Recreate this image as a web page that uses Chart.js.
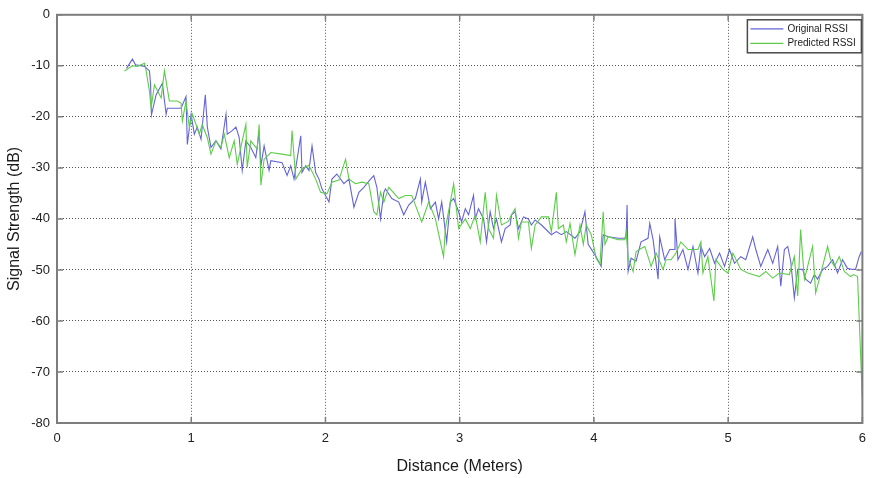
<!DOCTYPE html>
<html>
<head>
<meta charset="utf-8">
<title>RSSI vs distance</title>
<script src="https://cdn.jsdelivr.net/npm/chart.js@4.4.0/dist/chart.umd.min.js"></script>
<style>
    html, body { margin: 0; padding: 0; background: #fff; }
</style>
</head>
<body>
<canvas id="rssiChart" width="874" height="478"></canvas>
<script>

// measured signal
var originalDistance = [
    0.518, 0.562, 0.585, 0.652, 0.689, 0.697, 0.704, 0.738, 0.785, 0.813, 0.822, 0.924, 0.961, 0.971, 0.999,
    1.023, 1.045, 1.073, 1.105, 1.120, 1.147, 1.184, 1.221, 1.259, 1.268, 1.305, 1.333, 1.357, 1.380, 1.407,
    1.444, 1.481, 1.506, 1.519, 1.543, 1.580, 1.593, 1.677, 1.714, 1.741, 1.766, 1.816, 1.825, 1.853, 1.877,
    1.900, 1.927, 1.952, 1.974, 2.026, 2.048, 2.085, 2.137, 2.175, 2.212, 2.249, 2.286, 2.336, 2.360, 2.383,
    2.410, 2.435, 2.447, 2.494, 2.546, 2.583, 2.620, 2.670, 2.707, 2.717, 2.744, 2.782, 2.819, 2.843, 2.866,
    2.903, 2.930, 2.955, 2.992, 3.014, 3.042, 3.066, 3.103, 3.116, 3.140, 3.178, 3.200, 3.227, 3.252, 3.274,
    3.311, 3.339, 3.376, 3.386, 3.413, 3.438, 3.475, 3.512, 3.534, 3.562, 3.609, 3.683, 3.720, 3.757, 3.794,
    3.859, 3.896, 3.933, 3.957, 4.007, 4.054, 4.069, 4.106, 4.181, 4.240, 4.247, 4.255, 4.277, 4.314, 4.351,
    4.403, 4.416, 4.441, 4.478, 4.490, 4.527, 4.565, 4.602, 4.604, 4.626, 4.663, 4.701, 4.738, 4.775, 4.797,
    4.825, 4.862, 4.899, 4.936, 4.973, 5.010, 5.047, 5.094, 5.131, 5.183, 5.206, 5.243, 5.295, 5.332, 5.369,
    5.392, 5.419, 5.444, 5.466, 5.493, 5.518, 5.555, 5.577, 5.614, 5.642, 5.666, 5.704, 5.741, 5.778, 5.815,
    5.852, 5.889, 5.927, 5.949, 5.976, 5.993
];
var originalRssi = [
    -10.5, -8.7, -9.8, -10.1, -11.0, -13.5, -19.6, -15.7, -13.4, -19.5, -18.3, -18.3, -16.0, -25.4, -19.5,
    -23.4, -22.0, -24.4, -15.7, -22.0, -26.0, -24.7, -26.3, -19.5, -23.4, -22.7, -22.0, -24.0, -30.5, -24.7,
    -26.0, -28.0, -23.0, -29.6, -25.7, -30.5, -28.6, -29.0, -31.5, -29.6, -32.2, -23.7, -30.9, -29.6, -30.5,
    -25.7, -30.9, -32.2, -34.1, -36.7, -32.2, -31.2, -33.1, -32.2, -37.7, -34.8, -33.8, -32.2, -31.5, -33.8,
    -40.0, -34.8, -34.1, -36.0, -36.7, -39.2, -37.3, -36.0, -32.2, -36.7, -32.8, -38.0, -36.7, -40.0, -36.7,
    -44.5, -36.7, -36.0, -38.6, -40.6, -38.0, -39.2, -35.4, -40.0, -38.0, -40.0, -44.5, -38.6, -41.9, -40.0,
    -44.5, -41.9, -41.2, -39.2, -38.6, -41.9, -39.6, -40.0, -41.2, -40.2, -41.2, -43.1, -42.5, -43.1, -42.5,
    -43.8, -42.5, -38.6, -45.0, -47.0, -49.3, -43.1, -43.5, -43.8, -43.8, -37.3, -50.3, -47.7, -48.3, -44.5,
    -43.8, -40.9, -44.1, -51.8, -43.5, -48.0, -46.0, -46.0, -40.0, -48.0, -46.0, -49.9, -45.4, -50.6, -45.4,
    -47.4, -45.8, -48.7, -46.7, -49.3, -46.0, -48.7, -47.4, -48.0, -43.5, -46.0, -49.3, -46.0, -48.7, -45.4,
    -53.2, -46.0, -45.4, -48.3, -55.5, -49.9, -49.9, -51.8, -52.6, -50.9, -51.8, -49.9, -49.3, -48.0, -50.6,
    -48.0, -49.7, -49.9, -49.9, -47.4, -46.4
];

// model output
var predictedDistance = [
    0.503, 0.562, 0.600, 0.652, 0.664, 0.689, 0.701, 0.726, 0.776, 0.800, 0.813, 0.837, 0.896, 0.924, 0.934,
    0.961, 0.986, 1.008, 1.036, 1.060, 1.082, 1.120, 1.147, 1.184, 1.221, 1.246, 1.283, 1.320, 1.343, 1.380,
    1.407, 1.417, 1.444, 1.491, 1.506, 1.519, 1.543, 1.593, 1.677, 1.741, 1.751, 1.779, 1.825, 1.877, 1.927,
    1.964, 2.011, 2.048, 2.100, 2.150, 2.175, 2.224, 2.271, 2.323, 2.360, 2.383, 2.410, 2.435, 2.472, 2.546,
    2.596, 2.643, 2.717, 2.769, 2.819, 2.880, 2.893, 2.930, 2.955, 2.992, 3.042, 3.079, 3.116, 3.153, 3.190,
    3.215, 3.252, 3.274, 3.311, 3.363, 3.386, 3.413, 3.438, 3.460, 3.512, 3.534, 3.562, 3.609, 3.661, 3.683,
    3.720, 3.735, 3.772, 3.794, 3.822, 3.859, 3.896, 3.921, 3.943, 3.980, 4.017, 4.045, 4.069, 4.082, 4.106,
    4.181, 4.230, 4.240, 4.255, 4.292, 4.314, 4.351, 4.379, 4.426, 4.463, 4.515, 4.537, 4.574, 4.611, 4.648,
    4.701, 4.775, 4.797, 4.812, 4.849, 4.894, 4.909, 4.961, 4.998, 5.035, 5.094, 5.146, 5.183, 5.233, 5.280,
    5.332, 5.382, 5.456, 5.493, 5.518, 5.540, 5.568, 5.592, 5.629, 5.652, 5.679, 5.716, 5.741, 5.763, 5.791,
    5.828, 5.865, 5.912, 5.935, 5.964, 5.999
];
var predictedRssi = [
    -11.0, -10.0, -10.1, -9.5, -11.0, -15.0, -18.3, -13.7, -16.3, -11.0, -13.0, -16.9, -16.9, -17.3, -20.8,
    -16.9, -22.1, -19.5, -21.5, -23.4, -21.5, -24.1, -27.3, -24.7, -26.0, -23.4, -28.0, -24.7, -29.3, -24.7,
    -21.5, -29.9, -24.7, -26.3, -21.5, -33.4, -28.3, -27.0, -27.3, -27.6, -22.7, -32.2, -30.2, -29.5, -32.2,
    -34.8, -35.1, -32.8, -32.4, -28.3, -32.2, -33.1, -32.8, -33.1, -38.6, -39.2, -34.8, -36.7, -33.8, -36.0,
    -35.4, -35.4, -40.6, -36.7, -40.0, -47.4, -41.9, -36.7, -33.1, -41.9, -40.0, -41.9, -39.2, -44.5, -34.8,
    -41.9, -43.8, -35.4, -41.2, -40.5, -39.2, -38.0, -43.8, -40.6, -40.6, -45.8, -41.2, -39.6, -39.6, -42.5,
    -34.8, -41.9, -41.2, -44.5, -40.9, -47.0, -41.2, -45.0, -41.2, -43.1, -47.7, -48.9, -38.6, -45.0, -43.5,
    -44.1, -44.1, -42.5, -47.7, -50.3, -46.4, -45.8, -45.4, -49.3, -46.7, -49.9, -48.0, -48.0, -46.7, -44.5,
    -46.0, -46.0, -44.5, -50.6, -47.4, -56.1, -48.0, -49.9, -50.6, -46.7, -49.9, -50.6, -50.9, -51.3, -50.3,
    -51.6, -50.6, -50.9, -47.4, -55.1, -42.1, -51.8, -49.3, -45.4, -54.5, -51.8, -48.0, -45.4, -48.0, -49.3,
    -47.4, -50.3, -51.3, -50.9, -51.3, -74.8
];

var xTicks = [0, 1, 2, 3, 4, 5, 6];
var yTicks = [0, -10, -20, -30, -40, -50, -60, -70, -80];

var FONT = "'Liberation Sans', Arial, sans-serif";

/**
 * Склеивает два массива в точки {x, y}
 */
function ToPoints(xs, ys) {
    var pts = [];
    for (var i = 0; i < xs.length; i++) {
        pts.push({x: xs[i], y: ys[i]});
    }
    return pts;
}

/**
 * Рамка вокруг области графика, засечки внутрь и легенда в правом верхнем углу
 */
var boxPlugin = {
    id: 'boxPlugin',
    afterDraw: function (chart) {
        var ctx = chart.ctx;
        var a = chart.chartArea;
        var sx = chart.scales.x;
        var sy = chart.scales.y;

        ctx.save();
        ctx.strokeStyle = '#7d7d7d';
        ctx.lineWidth = 2;
        ctx.strokeRect(a.left, a.top, a.right - a.left, a.bottom - a.top);

        ctx.lineWidth = 1.5;
        ctx.beginPath();
        xTicks.forEach(function (v) {
            var px = sx.getPixelForValue(v);
            ctx.moveTo(px, a.bottom); ctx.lineTo(px, a.bottom - 6);
            ctx.moveTo(px, a.top); ctx.lineTo(px, a.top + 6);
        });
        yTicks.forEach(function (v) {
            var py = sy.getPixelForValue(v);
            ctx.moveTo(a.left, py); ctx.lineTo(a.left + 6, py);
            ctx.moveTo(a.right, py); ctx.lineTo(a.right - 6, py);
        });
        ctx.stroke();

        // легенда
        var bx = a.right - 115, by = a.top + 5, bw = 114, bh = 33;
        ctx.fillStyle = '#fff';
        ctx.fillRect(bx, by, bw, bh);
        ctx.strokeStyle = '#4a4a4a';
        ctx.lineWidth = 1.5;
        ctx.strokeRect(bx, by, bw, bh);

        var rows = [chart.data.datasets[0], chart.data.datasets[1]];
        ctx.font = '10px ' + FONT;
        ctx.textBaseline = 'middle';
        rows.forEach(function (ds, i) {
            var ly = by + 9 + i * 14.5;
            ctx.strokeStyle = ds.borderColor;
            ctx.lineWidth = 1.2;
            ctx.beginPath();
            ctx.moveTo(bx + 3, ly);
            ctx.lineTo(bx + 36, ly);
            ctx.stroke();
            ctx.fillStyle = '#222';
            ctx.fillText(ds.label, bx + 40, ly);
        });
        ctx.restore();
    }
};

function RenderChart() {
    var ctx = document.getElementById('rssiChart').getContext('2d');

    var gridOpts = {
        color: '#555',
        lineWidth: 1,
        drawTicks: false
    };
    // в v4 пунктир сетки задаётся через border.dash
    var borderOpts = {display: false, dash: [1, 2]};

    new Chart(ctx, {
        type: 'scatter',
        data: {
            datasets: [{
                label: 'Original RSSI',
                data: ToPoints(originalDistance, originalRssi),
                showLine: true,
                borderColor: '#6464d8',
                borderWidth: 1.1,
                pointRadius: 0,
                order: 2
            }, {
                label: 'Predicted RSSI',
                data: ToPoints(predictedDistance, predictedRssi),
                showLine: true,
                borderColor: '#5ccd48',
                borderWidth: 1.1,
                pointRadius: 0,
                order: 1
            }]
        },
        options: {
            responsive: false,
            animation: false,
            layout: {padding: {left: 0, right: 8, top: 11, bottom: 0}},
            plugins: {
                legend: {display: false},
                tooltip: {enabled: false}
            },
            scales: {
                x: {
                    type: 'linear',
                    min: 0,
                    max: 6,
                    grid: gridOpts,
                    border: borderOpts,
                    ticks: {
                        stepSize: 1,
                        padding: 8,
                        color: '#222',
                        font: {family: FONT, size: 13}
                    },
                    title: {
                        display: true,
                        text: 'Distance (Meters)',
                        color: '#1a1a1a',
                        font: {family: FONT, size: 16},
                        padding: {top: 0, bottom: 2}
                    },
                    afterFit: function (scale) { scale.height = 55; }
                },
                y: {
                    type: 'linear',
                    min: -80,
                    max: 0,
                    grid: gridOpts,
                    border: borderOpts,
                    ticks: {
                        stepSize: 10,
                        padding: 7,
                        color: '#222',
                        font: {family: FONT, size: 13}
                    },
                    title: {
                        display: true,
                        text: 'Signal Strength (dB)',
                        color: '#1a1a1a',
                        font: {family: FONT, size: 16},
                        padding: {top: 5, bottom: 0}
                    },
                    afterFit: function (scale) { scale.width = 57; }
                }
            }
        },
        plugins: [boxPlugin]
    });
}

RenderChart();
</script>
</body>
</html>
